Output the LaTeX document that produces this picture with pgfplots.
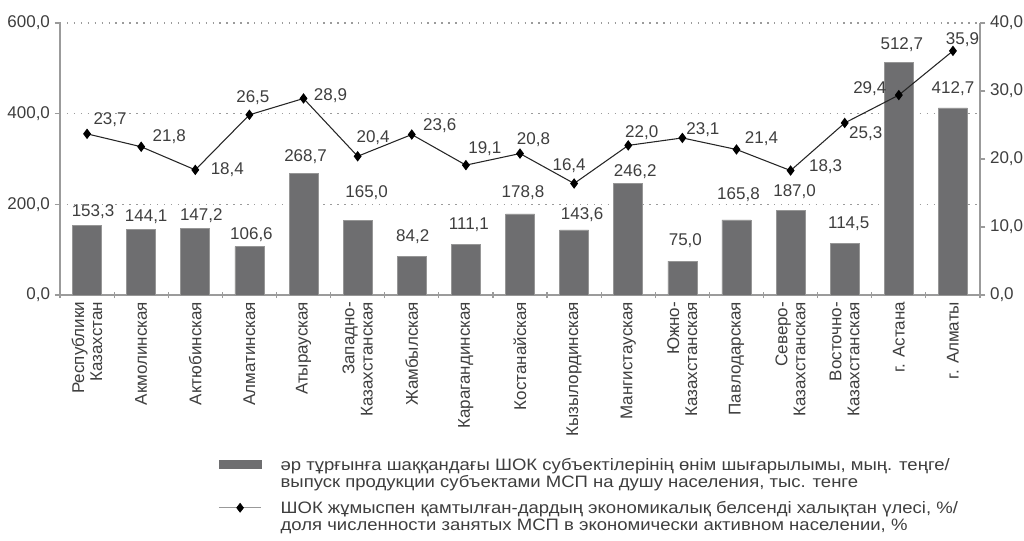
\documentclass[border=0pt]{standalone}
\usepackage{pgfplots}
\pgfplotsset{compat=1.18}
\usepackage{pgfplotstable}
\usepackage{fontspec}
\setmainfont{Liberation Sans}
\newfontfamily\legfont[FakeStretch=1.12]{Liberation Sans}
\definecolor{barcol}{RGB}{110,110,112}
\definecolor{baredge}{RGB}{150,150,150}
\definecolor{txt}{RGB}{62,62,62}
\definecolor{axcol}{RGB}{155,155,155}

\pgfplotstableread{
x y
0 153.3
1 144.1
2 147.2
3 106.6
4 268.7
5 165.0
6 84.2
7 111.1
8 178.8
9 143.6
10 246.2
11 75.0
12 165.8
13 187.0
14 114.5
15 512.7
16 412.7
}\bars

\pgfplotstableread{
x y
0 23.7
1 21.8
2 18.4
3 26.5
4 28.9
5 20.4
6 23.6
7 19.1
8 20.8
9 16.4
10 22.0
11 23.1
12 21.4
13 18.3
14 25.3
15 29.4
16 35.9
}\shares

% label offsets (pt) from the data point
\def\bdx{{4.5,3.75,4.5,1.5,1.5,6.75,0.75,2.25,2.25,6,5.25,2.25,1.5,3,3,2.25,0}}
\def\bdy{{10.5,9.75,9.75,9,12.75,21,15,15,15.75,11.25,9,15,18.75,14.25,14.25,13.5,14.25}}
\def\ldx{{17.25,21,24,2.6,20.25,11.6,21,14.25,10.1,-3.75,10.1,15.4,18.75,26.25,15.75,-21.75,7.1}}
\def\ldy{{10.9,7.5,0,13.1,2.25,13.9,6.75,12.4,10.5,13.5,9.4,6,7.9,2.6,-8.25,4.9,8.25}}

\pgfplotsset{
  common/.style={
    at={(45pt,183.75pt)}, anchor=south west,
    width=690pt, height=204pt, scale only axis,
    xmin=-0.5, xmax=16.5, clip=false,
    axis line style={axcol, line width=1.1pt, -},
    every tick label/.append style={font=\fontsize{12.75}{13.5}\selectfont, text=txt},
    tick style={axcol, line width=0.9pt},
    tick align=outside,
    major tick length=4pt,
    /pgf/number format/fixed,
    /pgf/number format/fixed zerofill,
    /pgf/number format/precision=1,
    /pgf/number format/use comma,
    /pgf/number format/assume math mode=true,
  },
  labelled/.style={
    nodes near coords={\pgfmathprintnumber[fixed,fixed zerofill,precision=1,use comma,assume math mode=true]{\pgfplotspointmeta}},
    nodes near coords style={font=\fontsize{12.75}{13.5}\selectfont, text=txt, anchor=center, inner sep=0pt},
  }
}

\begin{document}
\begin{tikzpicture}
\path[use as bounding box] (0pt,0pt) rectangle (768pt,405pt);
\begin{axis}[common,
  ymin=0, ymax=600,
  axis x line*=bottom, axis y line*=left,
  ytick={0,200,400,600},
  ymajorgrids,
  major grid style={axcol, line width=0.9pt, dash pattern=on 1pt off 4.2pt},
  xtick={0,...,16},
  major x tick style={draw=none},
  minor xtick={-0.5,0.5,...,16.5},
  minor x tick style={axcol, line width=0.9pt, yshift=2.2pt},
  minor tick length=4.5pt,
  xticklabels={{Республики\\Казахстан},Акмолинская,Актюбинская,Алматинская,Атырауская,{Западно-\\Казахстанская},Жамбылская,Карагандинская,Костанайская,Кызылординская,Мангистауская,{Южно-\\Казахстанская},Павлодарская,{Северо-\\Казахстанская},{Восточно-\\Казахстанская},г. Астана,г. Алматы},
  xticklabel style={rotate=90, anchor=east, align=right, inner sep=1pt, font=\fontsize{12.75}{13.5}\selectfont, text=txt},
  ybar, bar width=21.75pt,
]
\addplot[fill=barcol, draw=baredge, line width=0.5pt, labelled,
  nodes near coords style={xshift={\bdx[\coordindex]*1pt}, yshift={\bdy[\coordindex]*1pt}}] table[x=x,y=y] \bars;
\end{axis}
\begin{axis}[common,
  ymin=0, ymax=40,
  axis x line=none, axis y line*=right,
  ytick={0,10,20,30,40},
  legend cell align=left,
  legend style={at={(axis description cs:0.1717,-0.59)}, anchor=north west, draw=none, fill=none,
    font=\legfont\fontsize{12.4}{12.75}\selectfont, text=txt,
    cells={anchor=west, align=left}, column sep=12pt, row sep=5pt, inner sep=0pt},
]
\addlegendimage{legend image code/.code={\fill[barcol] (0pt,4.3pt) rectangle (32pt,10.3pt); \path[draw=none,fill=none] (0pt,-6pt) rectangle (1pt,10.3pt);}}
\addlegendentry{әр тұрғынға шаққандағы ШОК субъектілерінің өнім шығарылымы, мың. теңге/\\выпуск продукции субъектами МСП на душу населения, тыс. тенге}
\addlegendimage{legend image code/.code={\draw[black!40, line width=0.8pt] (0pt,7pt) -- (32pt,7pt); \fill[black] (16pt,10.4pt) -- (18.6pt,7pt) -- (16pt,3.6pt) -- (13.4pt,7pt) -- cycle; \path[draw=none,fill=none] (0pt,-6pt) rectangle (1pt,10.4pt);}}
\addlegendentry{ШОК жұмыспен қамтылған-дардың экономикалық белсенді халықтан үлесі, \%/\\доля численности занятых МСП в экономически активном населении, \%}
\addplot[black!85, line width=0.8pt, mark=diamond*, mark size=3.3pt, mark options={fill=black, draw=black}, labelled, forget plot,
  nodes near coords style={xshift={\ldx[\coordindex]*1pt}, yshift={\ldy[\coordindex]*1pt}}]
  table[x=x,y=y] \shares;
\end{axis}
\end{tikzpicture}
\end{document}
